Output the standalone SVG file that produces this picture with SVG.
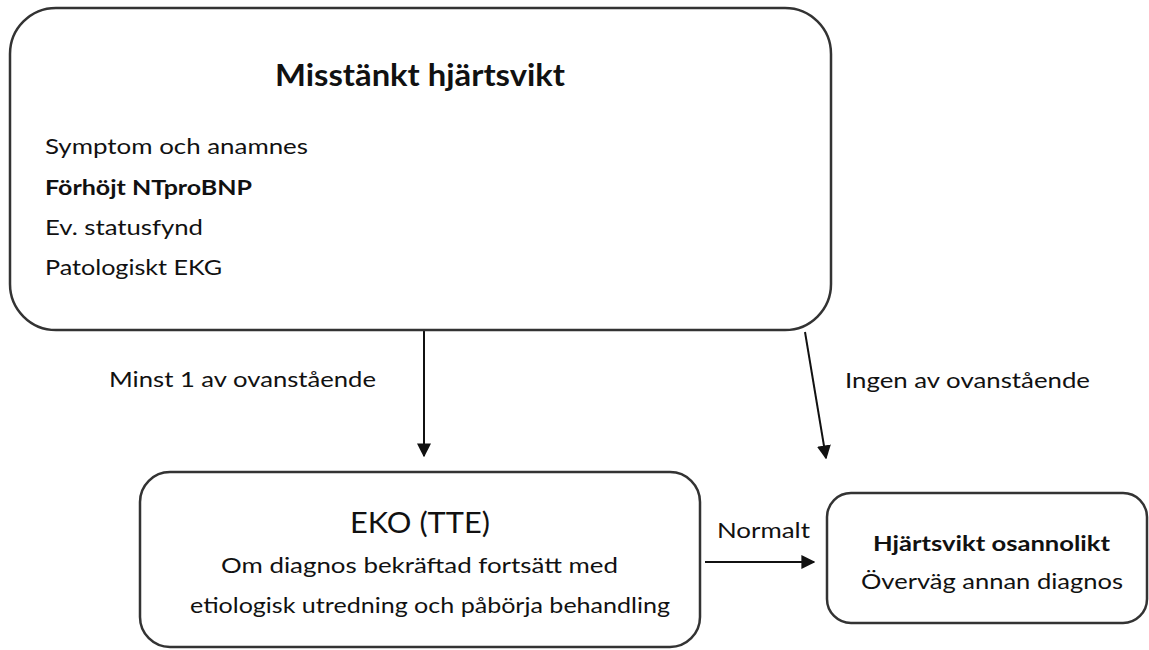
<svg xmlns="http://www.w3.org/2000/svg" width="1149" height="650" viewBox="0 0 1149 650">
<defs>
<style>
.box{fill:#fff;stroke:#333;stroke-width:2.5}
.t{font-family:Lato,"Open Sans","Liberation Sans",sans-serif;fill:#111;font-size:21px}
.b{font-weight:bold}
.ln{stroke:#111;stroke-width:2;fill:none}
</style>
<marker id="ah" viewBox="0 0 10 10" refX="9" refY="5" markerWidth="7" markerHeight="7" orient="auto" markerUnits="strokeWidth">
<path d="M0,0 L10,5 L0,10 z" fill="#111"/>
</marker>
</defs>
<rect width="1149" height="650" fill="#fff"/>
<g id="connectors">
<line class="ln" x1="424" y1="331" x2="424" y2="456" marker-end="url(#ah)"/>
<line class="ln" x1="805" y1="332" x2="826" y2="458" marker-end="url(#ah)"/>
<line class="ln" x1="705" y1="562" x2="814" y2="562" marker-end="url(#ah)"/>
<text class="t" x="109" y="387" textLength="267" lengthAdjust="spacingAndGlyphs">Minst 1 av ovanstående</text>
<text class="t" x="845" y="388" textLength="245" lengthAdjust="spacingAndGlyphs">Ingen av ovanstående</text>
<text class="t" x="717" y="538" textLength="93" lengthAdjust="spacingAndGlyphs">Normalt</text>
</g>
<g id="node-misstankt">
<rect class="box" x="10" y="8" width="821" height="322" rx="46"/>
<text class="t b" x="275" y="86" style="font-size:30px" textLength="290" lengthAdjust="spacingAndGlyphs">Misstänkt hjärtsvikt</text>
<text class="t" x="45" y="154" textLength="263" lengthAdjust="spacingAndGlyphs">Symptom och anamnes</text>
<text class="t b" x="45" y="195" textLength="207" lengthAdjust="spacingAndGlyphs">Förhöjt NTproBNP</text>
<text class="t" x="45" y="235" textLength="158" lengthAdjust="spacingAndGlyphs">Ev. statusfynd</text>
<text class="t" x="45" y="275" textLength="177" lengthAdjust="spacingAndGlyphs">Patologiskt EKG</text>
</g>
<g id="node-eko">
<rect class="box" x="140" y="472" width="560" height="175" rx="30"/>
<text class="t" x="350" y="533" style="font-size:28px" textLength="140" lengthAdjust="spacingAndGlyphs">EKO (TTE)</text>
<text class="t" x="221" y="573" textLength="397" lengthAdjust="spacingAndGlyphs">Om diagnos bekräftad fortsätt med</text>
<text class="t" x="190" y="613" textLength="480" lengthAdjust="spacingAndGlyphs">etiologisk utredning och påbörja behandling</text>
</g>
<g id="node-osannolikt">
<rect class="box" x="827" y="493" width="320" height="130" rx="24"/>
<text class="t b" x="873" y="551" textLength="237" lengthAdjust="spacingAndGlyphs">Hjärtsvikt osannolikt</text>
<text class="t" x="861" y="589" textLength="262" lengthAdjust="spacingAndGlyphs">Överväg annan diagnos</text>
</g>
</svg>
